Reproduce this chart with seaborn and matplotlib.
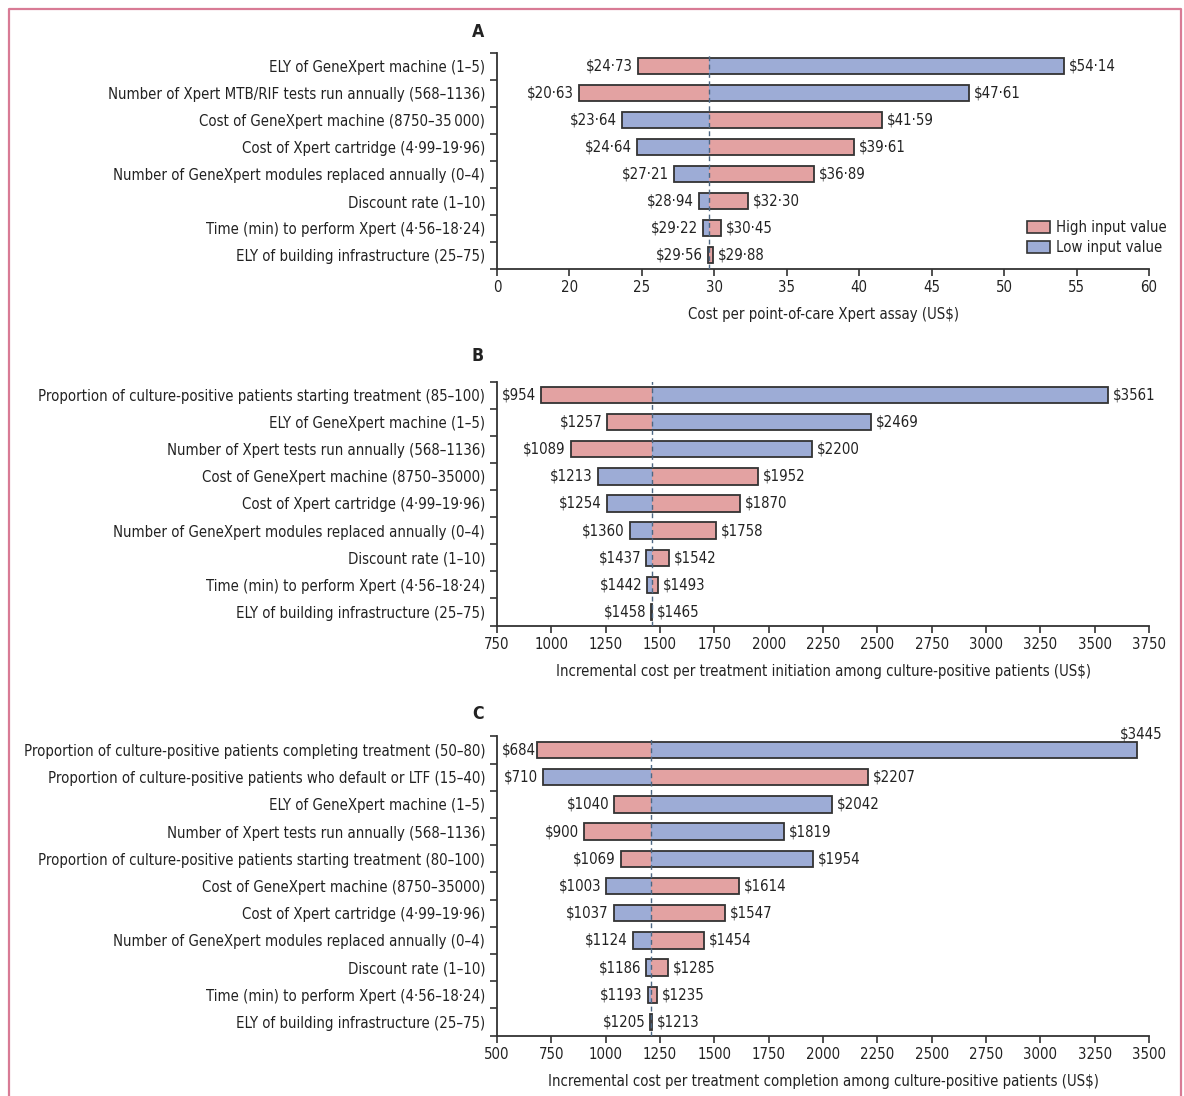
import numpy as np
import pandas as pd
import matplotlib
matplotlib.use("Agg")
import matplotlib.pyplot as plt
import seaborn as sns
from matplotlib import font_manager
from matplotlib.patches import Patch
from matplotlib.lines import Line2D

# ---------------- Data ----------------
# Panel A: cost per point-of-care Xpert assay
a_params = [
    "ELY of GeneXpert machine (1\u20135)",
    "Number of Xpert MTB/RIF tests run annually (568\u20131136)",
    "Cost of GeneXpert machine (8750\u201335\u2009000)",
    "Cost of Xpert cartridge (4\u00b799\u201319\u00b796)",
    "Number of GeneXpert modules replaced annually (0\u20134)",
    "Discount rate (1\u201310)",
    "Time (min) to perform Xpert (4\u00b756\u201318\u00b724)",
    "ELY of building infrastructure (25\u201375)",
]
a_low_input = [54.14, 47.61, 23.64, 24.64, 27.21, 28.94, 29.22, 29.56]
a_high_input = [24.73, 20.63, 41.59, 39.61, 36.89, 32.30, 30.45, 29.88]
a_base = 29.66
a_ticks = [15, 20, 25, 30, 35, 40, 45, 50, 55, 60]
a_ticklabels = ["0", "20", "25", "30", "35", "40", "45", "50", "55", "60"]
a_xlabel = "Cost per point-of-care Xpert assay (US$)"

# Panel B: incremental cost per treatment initiation
b_params = [
    "Proportion of culture-positive patients starting treatment (85\u2013100)",
    "ELY of GeneXpert machine (1\u20135)",
    "Number of Xpert tests run annually (568\u20131136)",
    "Cost of GeneXpert machine (8750\u201335000)",
    "Cost of Xpert cartridge (4\u00b799\u201319\u00b796)",
    "Number of GeneXpert modules replaced annually (0\u20134)",
    "Discount rate (1\u201310)",
    "Time (min) to perform Xpert (4\u00b756\u201318\u00b724)",
    "ELY of building infrastructure (25\u201375)",
]
b_low_input = [3561, 2469, 2200, 1213, 1254, 1360, 1437, 1442, 1458]
b_high_input = [954, 1257, 1089, 1952, 1870, 1758, 1542, 1493, 1465]
b_base = 1462
b_ticks = [750, 1000, 1250, 1500, 1750, 2000, 2250, 2500, 2750, 3000, 3250, 3500, 3750]
b_xlabel = "Incremental cost per treatment initiation among culture-positive patients (US$)"

# Panel C: incremental cost per treatment completion
c_params = [
    "Proportion of culture-positive patients completing treatment (50\u201380)",
    "Proportion of culture-positive patients who default or LTF (15\u201340)",
    "ELY of GeneXpert machine (1\u20135)",
    "Number of Xpert tests run annually (568\u20131136)",
    "Proportion of culture-positive patients starting treatment (80\u2013100)",
    "Cost of GeneXpert machine (8750\u201335000)",
    "Cost of Xpert cartridge (4\u00b799\u201319\u00b796)",
    "Number of GeneXpert modules replaced annually (0\u20134)",
    "Discount rate (1\u201310)",
    "Time (min) to perform Xpert (4\u00b756\u201318\u00b724)",
    "ELY of building infrastructure (25\u201375)",
]
c_low_input = [3445, 710, 2042, 1819, 1954, 1003, 1037, 1124, 1186, 1193, 1205]
c_high_input = [684, 2207, 1040, 900, 1069, 1614, 1547, 1454, 1285, 1235, 1213]
c_base = 1209
c_ticks = [500, 750, 1000, 1250, 1500, 1750, 2000, 2250, 2500, 2750, 3000, 3250, 3500]
c_xlabel = "Incremental cost per treatment completion among culture-positive patients (US$)"

# ---------------- Style ----------------
PINK = "#E3A2A2"
BLUE = "#9DACD6"
EDGE = "#333333"
DASH = "#4d6783"
TXT = "#222222"

sns.set_theme(style="ticks")
names = {f.name for f in font_manager.fontManager.ttflist}
if "Liberation Sans Narrow" in names:
    plt.rcParams["font.family"] = ["Liberation Sans Narrow", "DejaVu Sans"]
else:
    plt.rcParams["font.family"] = ["DejaVu Sans"]
    plt.rcParams["font.stretch"] = "condensed"
plt.rcParams["text.color"] = TXT
plt.rcParams["axes.labelcolor"] = TXT
plt.rcParams["xtick.color"] = EDGE
plt.rcParams["ytick.color"] = EDGE
plt.rcParams["xtick.labelcolor"] = TXT
plt.rcParams["ytick.labelcolor"] = TXT

W, H = 1184, 1096
fig = plt.figure(figsize=(W / 100, H / 100), dpi=100)

# calibrate font size so the longest label matches the reference width (~462 px)
_probe = fig.text(0, 0, c_params[0], fontsize=10)
_w = _probe.get_window_extent(renderer=fig.canvas.get_renderer()).width
_probe.remove()
FS = 10 * 460 / _w


def fig_axes(left_px, top_px, right_px, bottom_px):
    return fig.add_axes([left_px / W, 1 - bottom_px / H,
                         (right_px - left_px) / W, (bottom_px - top_px) / H])


def fmt_money(v, dec):
    if dec:
        return ("$%.2f" % v).replace(".", "\u00b7")
    return "$%d" % round(v)


def panel(ax, params, low, high, base, xlim, ticks, ticklabels, xlabel, dec,
          above_first=False):
    df = pd.DataFrame({"param": params, "low": low, "high": high})
    df["d_low"] = df["low"] - base
    df["d_high"] = df["high"] - base
    df["lo"] = df[["low", "high"]].min(axis=1)
    df["span"] = df[["low", "high"]].max(axis=1) - df["lo"]
    common = dict(y="param", orient="h", width=0.6, errorbar=None, ax=ax,
                  saturation=1)
    sns.barplot(data=df, x="d_low", left=base, color=BLUE, linewidth=0, **common)
    sns.barplot(data=df, x="d_high", left=base, color=PINK, linewidth=0, **common)
    sns.barplot(data=df, x="span", left=df["lo"].values, color=EDGE, fill=False,
                linewidth=1.3, **common)
    ax.axvline(base, color=DASH, lw=1.0, ls=(0, (3.5, 2.5)), zorder=6)

    n = len(params)
    for i, r in df.iterrows():
        lo = min(r["low"], r["high"])
        hi = max(r["low"], r["high"])
        if above_first and i == 0:
            ax.annotate(fmt_money(lo, dec), xy=(lo, i), xytext=(-1, 0),
                        textcoords="offset points", ha="right", va="center",
                        fontsize=FS)
            ax.annotate(fmt_money(hi, dec), xy=(hi, i), xytext=(3, 6),
                        textcoords="offset points", ha="center", va="bottom",
                        fontsize=FS)
            continue
        ax.annotate(fmt_money(lo, dec), xy=(lo, i), xytext=(-3.5, 0),
                    textcoords="offset points", ha="right", va="center",
                    fontsize=FS)
        ax.annotate(fmt_money(hi, dec), xy=(hi, i), xytext=(3.5, 0),
                    textcoords="offset points", ha="left", va="center",
                    fontsize=FS)

    ax.set_xlim(*xlim)
    ax.set_ylim(n - 0.5, -0.5)
    ax.set_xticks(ticks, ticklabels)
    ax.set_yticks(range(n), params)
    ax.set_yticks(np.arange(n + 1) - 0.5, minor=True)
    ax.tick_params(axis="y", which="major", length=0, pad=8.5, labelsize=FS)
    ax.tick_params(axis="y", which="minor", length=5, width=1.2, direction="out")
    ax.tick_params(axis="x", which="major", length=5, width=1.2, direction="out",
                   pad=3.5, labelsize=FS)
    ax.set_ylabel("")
    ax.set_xlabel(xlabel, fontsize=FS, labelpad=8.5)
    sns.despine(ax=ax)
    for s in ("left", "bottom"):
        ax.spines[s].set_color(EDGE)
        ax.spines[s].set_linewidth(1.3)


axA = fig_axes(497, 52.5, 1149, 268.5)
panel(axA, a_params, a_low_input, a_high_input, a_base, (15, 60), a_ticks,
      a_ticklabels, a_xlabel, True)
axA.legend(handles=[Patch(facecolor=PINK, edgecolor=EDGE, lw=1.2, label="High input value"),
                    Patch(facecolor=BLUE, edgecolor=EDGE, lw=1.2, label="Low input value")],
           loc="lower right", bbox_to_anchor=(1.036, 0.035), frameon=False,
           fontsize=FS, handlelength=1.5, handleheight=0.9, handletextpad=0.4,
           labelspacing=0.32, borderaxespad=0)

axB = fig_axes(497, 381.5, 1149, 625.5)
panel(axB, b_params, b_low_input, b_high_input, b_base, (750, 3750), b_ticks,
      [str(t) for t in b_ticks], b_xlabel, False)

axC = fig_axes(497, 736.4, 1149, 1035.6)
panel(axC, c_params, c_low_input, c_high_input, c_base, (500, 3500), c_ticks,
      [str(t) for t in c_ticks], c_xlabel, False, above_first=True)

for letter, ypx in (("A", 32), ("B", 356), ("C", 714)):
    fig.text(478 / W, 1 - ypx / H, letter, ha="center", va="center",
             fontsize=FS + 2, fontweight="bold", color=TXT)

# pink frame (left, top, right)
BC = "#D87B95"
xl, xr, yt = 8.5 / W, 1180.5 / W, 1 - 9 / H
fig.add_artist(Line2D([xl, xl, xr, xr], [0, yt, yt, 0], transform=fig.transFigure,
                      color=BC, lw=1.6))

fig.savefig("out.png", dpi=100)
